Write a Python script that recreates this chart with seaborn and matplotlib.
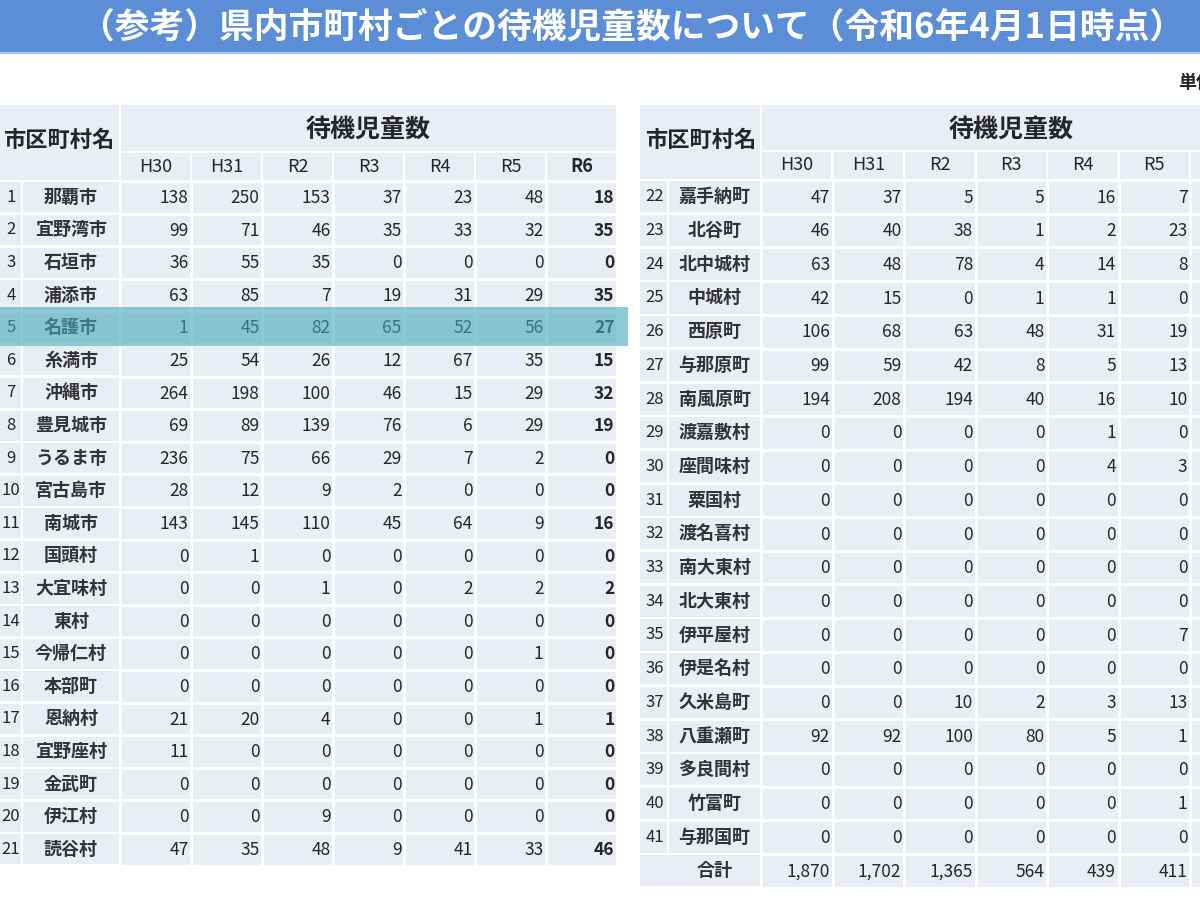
import numpy as np
import pandas as pd
import matplotlib
matplotlib.use("Agg")
import matplotlib.pyplot as plt
import seaborn as sns
from matplotlib.patches import Rectangle
from matplotlib.colors import ListedColormap

sns.set_theme(style="white")
plt.rcParams["font.family"] = ["Noto Sans CJK JP", "DejaVu Sans"]

# ---------------- data ----------------
title = "（参考）県内市町村ごとの待機児童数について（令和6年4月1日時点）"
unit_label = "単位：人"
name_header = "市区町村名"
group_header = "待機児童数"
years = ["H30", "H31", "R2", "R3", "R4", "R5", "R6"]

left_no = [str(i) for i in range(1, 22)]
left_names = ["那覇市", "宜野湾市", "石垣市", "浦添市", "名護市", "糸満市", "沖縄市",
              "豊見城市", "うるま市", "宮古島市", "南城市", "国頭村", "大宜味村", "東村",
              "今帰仁村", "本部町", "恩納村", "宜野座村", "金武町", "伊江村", "読谷村"]
left_h30 = [138, 99, 36, 63, 1, 25, 264, 69, 236, 28, 143, 0, 0, 0, 0, 0, 21, 11, 0, 0, 47]
left_h31 = [250, 71, 55, 85, 45, 54, 198, 89, 75, 12, 145, 1, 0, 0, 0, 0, 20, 0, 0, 0, 35]
left_r2 = [153, 46, 35, 7, 82, 26, 100, 139, 66, 9, 110, 0, 1, 0, 0, 0, 4, 0, 0, 9, 48]
left_r3 = [37, 35, 0, 19, 65, 12, 46, 76, 29, 2, 45, 0, 0, 0, 0, 0, 0, 0, 0, 0, 9]
left_r4 = [23, 33, 0, 31, 52, 67, 15, 6, 7, 0, 64, 0, 2, 0, 0, 0, 0, 0, 0, 0, 41]
left_r5 = [48, 32, 0, 29, 56, 35, 29, 29, 2, 0, 9, 0, 2, 0, 1, 0, 1, 0, 0, 0, 33]
left_r6 = [18, 35, 0, 35, 27, 15, 32, 19, 0, 0, 16, 0, 2, 0, 0, 0, 1, 0, 0, 0, 46]

right_no = [str(i) for i in range(22, 42)] + [""]
right_names = ["嘉手納町", "北谷町", "北中城村", "中城村", "西原町", "与那原町", "南風原町",
               "渡嘉敷村", "座間味村", "粟国村", "渡名喜村", "南大東村", "北大東村", "伊平屋村",
               "伊是名村", "久米島町", "八重瀬町", "多良間村", "竹富町", "与那国町", "合計"]
right_h30 = [47, 46, 63, 42, 106, 99, 194, 0, 0, 0, 0, 0, 0, 0, 0, 0, 92, 0, 0, 0, 1870]
right_h31 = [37, 40, 48, 15, 68, 59, 208, 0, 0, 0, 0, 0, 0, 0, 0, 0, 92, 0, 0, 0, 1702]
right_r2 = [5, 38, 78, 0, 63, 42, 194, 0, 0, 0, 0, 0, 0, 0, 0, 10, 100, 0, 0, 0, 1365]
right_r3 = [5, 1, 4, 1, 48, 8, 40, 0, 0, 0, 0, 0, 0, 0, 0, 2, 80, 0, 0, 0, 564]
right_r4 = [16, 2, 14, 1, 31, 5, 16, 1, 4, 0, 0, 0, 0, 0, 0, 3, 5, 0, 0, 0, 439]
right_r5 = [7, 23, 8, 0, 19, 13, 10, 0, 3, 0, 0, 0, 0, 7, 0, 13, 1, 0, 1, 0, 411]
right_r6 = [None] * 21  # column is cut off at the image edge

highlight_row = 4  # 名護市

left_df = pd.DataFrame(dict(zip(years, [left_h30, left_h31, left_r2, left_r3, left_r4, left_r5, left_r6])))
right_df = pd.DataFrame(dict(zip(years, [right_h30, right_h31, right_r2, right_r3, right_r4, right_r5, right_r6])))

# ---------------- styling ----------------
W, H = 1200, 900
CELL = "#E9EDF4"
TXT = "#262626"
TITLE_BG = "#5B8ED7"

fig = plt.figure(figsize=(12, 9), dpi=100)
fig.patch.set_facecolor("white")
base = fig.add_axes([0, 0, 1, 1])
base.set_xlim(0, W)
base.set_ylim(H, 0)
base.axis("off")

# title bar
base.add_patch(Rectangle((0, 0), W, 52, color=TITLE_BG, lw=0))
base.add_patch(Rectangle((0, 52), W, 2, color="#A9C4EC", lw=0))
base.text(632, 27, title, color="white", fontsize=25, fontweight="bold",
          ha="center", va="center")
base.text(1178, 82, unit_label, color=TXT, fontsize=13, fontweight="bold",
          ha="left", va="center")


def cell(ax, x0, y0, x1, y1, g=1.3):
    ax.add_patch(Rectangle((x0 + g, y0 + g), x1 - x0 - 2 * g, y1 - y0 - 2 * g,
                           color=CELL, lw=0))


def draw_table(L, no, names, df, total_last=False):
    x0, xno, xname, colw = L["x0"], L["xno"], L["xname"], L["colw"]
    top, h1, h2, rowh = L["top"], L["h1"], L["h2"], L["rowh"]
    n = len(names)
    ncol = len(years)
    xend = xname + ncol * colw
    bottom = h2 + n * rowh
    # header cells
    cell(base, x0 - 3, top, xname, h2)
    cell(base, xname, top, xend, h1)
    base.text((x0 + xname) / 2 - 1, (top + h2) / 2 - 2, name_header, fontsize=16,
              fontweight="bold", color=TXT, ha="center", va="center")
    base.text((xname + xend) / 2, (top + h1) / 2 + 2, group_header, fontsize=18,
              fontweight="bold", color=TXT, ha="center", va="center")
    for j, yr in enumerate(years):
        cx = xname + (j + 0.5) * colw
        cell(base, xname + j * colw, h1, xname + (j + 1) * colw, h2)
        if cx < W - 10:
            base.text(cx, (h1 + h2) / 2, yr, fontsize=13, color=TXT, ha="center",
                      va="center", fontweight="bold" if yr == "R6" else "normal")
    # number / name columns
    for i in range(n):
        y0 = h2 + i * rowh
        cy = y0 + rowh / 2
        if total_last and i == n - 1:
            cell(base, x0 - 3, y0, xname, y0 + rowh)
        else:
            cell(base, x0 - 3, y0, xno, y0 + rowh)
            cell(base, xno, y0, xname, y0 + rowh)
        base.text((x0 + xno) / 2, cy, no[i], fontsize=12, color=TXT, ha="center", va="center")
        base.text((xno + xname) / 2, cy, names[i], fontsize=13, fontweight="bold",
                  color="#333333", ha="center", va="center")
    # data block drawn with seaborn heatmap
    ax = fig.add_axes([xname / W, 1 - bottom / H, ncol * colw / W, n * rowh / H])
    sns.heatmap(np.zeros(df.shape), ax=ax, cmap=ListedColormap([CELL]), vmin=0, vmax=1,
                cbar=False, linewidths=1.9, linecolor="white", xticklabels=False,
                yticklabels=False)
    ax.set_facecolor("white")
    for i in range(n):
        for j, yr in enumerate(years):
            v = df[yr].iloc[i]
            if v is None or (isinstance(v, float) and np.isnan(v)):
                continue
            s = f"{int(v):,}"
            ax.text(j + 0.965, i + 0.52, s, fontsize=12.5, color=TXT, ha="right", va="center",
                    fontweight="bold" if yr == "R6" else "normal")
    return ax


LEFT = dict(x0=0, xno=22, xname=120, colw=71.0, top=104, h1=152, h2=181, rowh=32.6)
RIGHT = dict(x0=642, xno=668, xname=761, colw=71.5, top=104, h1=151, h2=180, rowh=33.7)

draw_table(LEFT, left_no, left_names, left_df)
draw_table(RIGHT, right_no, right_names, right_df, total_last=True)

# highlight overlay for 名護市
top_ax = fig.add_axes([0, 0, 1, 1])
top_ax.set_xlim(0, W)
top_ax.set_ylim(H, 0)
top_ax.axis("off")
top_ax.patch.set_alpha(0)
ry0 = LEFT["h2"] + highlight_row * LEFT["rowh"]
top_ax.add_patch(Rectangle((0, ry0 - 4), 628, LEFT["rowh"] + 6, color="#45A9B9",
                           alpha=0.6, lw=0))

fig.savefig("out.png", dpi=100, facecolor="white")
